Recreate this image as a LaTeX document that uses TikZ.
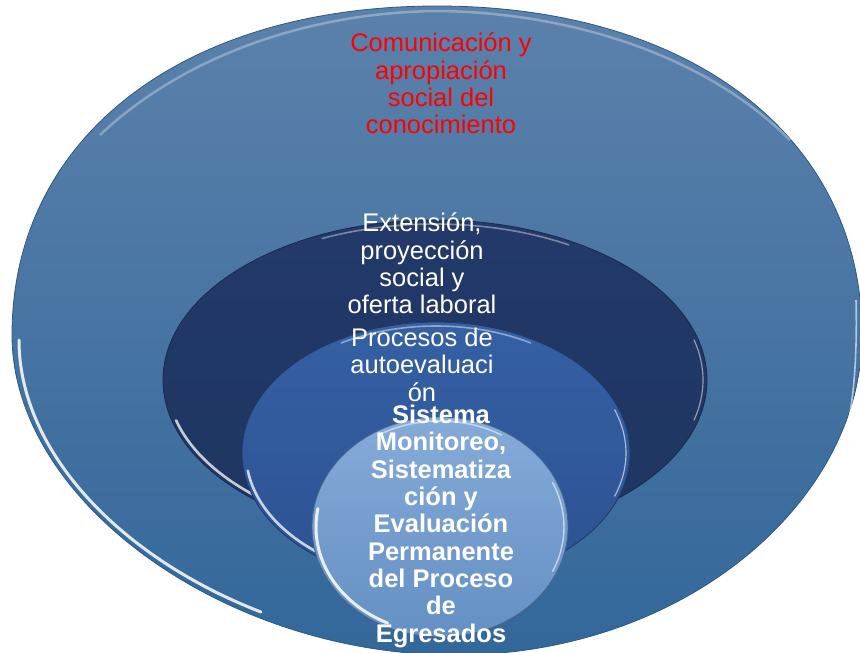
\documentclass[tikz,border=0pt]{standalone}
\usepackage{fontspec}
\setmainfont{Liberation Sans}
\definecolor{outerTop}{HTML}{5B81AB}
\definecolor{outerBot}{HTML}{33679A}
\definecolor{outerEdge}{HTML}{2C5A88}
\definecolor{darkTop}{HTML}{22396A}
\definecolor{darkBot}{HTML}{1E3660}
\definecolor{midTop}{HTML}{3560A4}
\definecolor{midBot}{HTML}{2C5292}
\definecolor{lightTop}{HTML}{85ABD8}
\definecolor{lightBot}{HTML}{6490C4}
\tikzset{
  txt/.style={align=center, inner sep=0pt, anchor=north, font=\fontsize{25.5}{27.3}\selectfont},
  redtxt/.style={txt, text=red},
  whitetxt/.style={txt, text=white},
  boldtxt/.style={txt, text=white, font=\fontsize{25.5}{27.3}\selectfont\bfseries},
  gloss/.style={white, line width=2.6pt, opacity=0.75, line cap=round},
  rimdark/.style={draw=#1, line width=0.8pt}
}
\begin{document}
\begin{tikzpicture}[x=1pt,y=-1pt]
\useasboundingbox (0,0) rectangle (860,653);
\begin{scope}
\clip (0,0) rectangle (860,653);
% outer shape
\shade[top color=outerTop, bottom color=outerBot, rimdark=outerEdge]
  (437,6) .. controls (182,6) and (12,138) .. (12,335)
  .. controls (12,501) and (225,655) .. (455,655)
  .. controls (685,655) and (862,501) .. (862,335)
  .. controls (862,138) and (692,6) .. (437,6) -- cycle;
% outer gloss
\draw[gloss, line width=3pt, opacity=0.85] (19,340) .. controls (19,452) and (121,558) .. (261,612);
\draw[white, line width=2.5pt, opacity=0.3] (100,135) .. controls (190,50) and (320,12) .. (437,11) .. controls (560,12) and (700,50) .. (790,140);
\draw[white, line width=1.6pt, opacity=0.6] (856,300) .. controls (858,380) and (850,440) .. (830,480);
% dark ellipse
\shade[top color=darkTop, bottom color=darkBot, rimdark=darkBot!80!black]
  (435,380) ellipse [x radius=272, y radius=160];
\draw[gloss] (435,380) ++(165:268 and 156) arc[start angle=165, end angle=118, x radius=268, y radius=156];
\draw[white, line width=1.6pt, opacity=0.4] (435,380) ++(245:268 and 156) arc[start angle=245, end angle=300, x radius=268, y radius=156];
\draw[white, line width=1.2pt, opacity=0.5] (435,380) ++(15:268 and 156) arc[start angle=15, end angle=-15, x radius=268, y radius=156];
% mid ellipse
\shade[top color=midTop, bottom color=midBot, rimdark=midBot!70!black]
  (436,453) ellipse [x radius=194, y radius=131];
\draw[gloss] (436,453) ++(172:190 and 127) arc[start angle=172, end angle=112, x radius=190, y radius=127];
\draw[white, line width=1.6pt, opacity=0.45] (436,453) ++(240:190 and 127) arc[start angle=240, end angle=300, x radius=190, y radius=127];
\draw[white, line width=1.2pt, opacity=0.6] (436,453) ++(20:190 and 127) arc[start angle=20, end angle=-20, x radius=190, y radius=127];
% light ellipse
\shade[top color=lightTop, bottom color=lightBot, rimdark=lightBot!70!black]
  (440,527) ellipse [x radius=128, y radius=110];
\draw[gloss, line width=3pt, opacity=0.85] (440,527) ++(190:124 and 106) arc[start angle=190, end angle=115, x radius=124, y radius=106];
\draw[white, line width=1.6pt, opacity=0.5] (440,527) ++(240:124 and 106) arc[start angle=240, end angle=300, x radius=124, y radius=106];
\draw[white, line width=1.4pt, opacity=0.6] (440,527) ++(25:124 and 106) arc[start angle=25, end angle=-25, x radius=124, y radius=106];
\end{scope}
% texts
\node[redtxt] (comm) at (441,33) {Comunicación y\\apropiación\\social del\\conocimiento};
\node[whitetxt] (ext) at (422,213) {Extensión,\\proyección\\social y\\oferta laboral};
\node[whitetxt] (proc) at (422,328) {Procesos de\\autoevaluaci\\ón};
\node[boldtxt] (sis) at (441,405) {Sistema\\Monitoreo,\\Sistematiza\\ción y\\Evaluación\\Permanente\\del Proceso\\de\\Egresados};
\end{tikzpicture}
\end{document}
